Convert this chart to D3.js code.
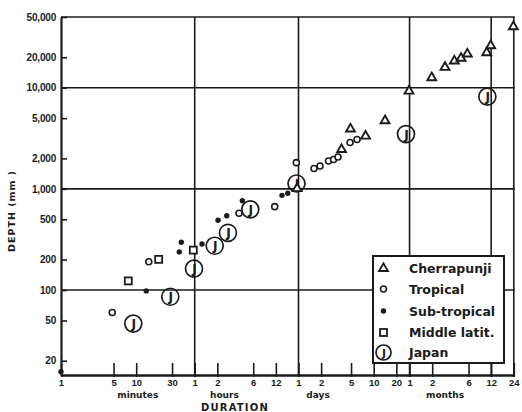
<!DOCTYPE html>
<html>
<head>
<meta charset="utf-8">
<script src="https://cdn.jsdelivr.net/npm/d3@7"></script>
<style>
  body { margin: 0; background: #fff; }
  svg { display: block; font-family: "DejaVu Sans", sans-serif; }
</style>
</head>
<body>
<div id="chart"></div>
<script>
// durations are in minutes, depths in mm
const cherrapunji = [
  [1380, 1007], [5380, 2449], [7080, 3908], [11220, 3326], [20370, 4721],
  [42480, 9270], [85160, 12560], [127900, 15920], [170200, 18370], [208900, 19550],
  [253500, 21550], [458900, 22190], [518500, 26010], [1036000, 40080]
];
const tropical = [
  [4.8, 60], [14.7, 190], [233, 573], [695, 667], [1347, 1815],
  [2315, 1589], [2785, 1683], [3610, 1885], [4210, 1951], [4830, 2065],
  [6980, 2873], [8650, 3078]
];
const subTropical = [
  [1, 15.6], [13.6, 98], [37.4, 238], [39.8, 297], [75, 285], [122.5, 489],
  [160, 543], [258, 764], [869, 863], [1035, 904]
];
const middleLatit = [
  [7.85, 123], [19.9, 201], [57.5, 248]
];
const japan = [
  [9.15, 46.6], [28.4, 85.8], [58.7, 162.6], [110.7, 274], [166, 368],
  [329, 628], [1355, 1130], [38730, 3484], [467700, 8150]
];

const yTickValues = [20, 50, 100, 200, 500, 1000, 2000, 5000, 10000, 20000, 50000];
const yTickLabels = ['20', '50', '100', '200', '500', '1,000', '2,000', '5,000', '10,000', '20,000', '50,000'];
const yGridValues = [100, 1000, 10000, 50000];

const xTickValues = [1, 5, 10, 30, 60, 120, 360, 720, 1440, 2880, 7200, 14400, 28800,
  43200, 86400, 262800, 525600, 1051200];
const xTickLabels = ['1', '5', '10', '30', '1', '2', '6', '12', '1', '2', '5', '10', '20',
  '1', '2', '6', '12', '24'];
const xGridValues = [60, 1440, 43200, 525600, 1051200];
const unitNames = ['minutes', 'hours', 'days', 'months'];
const unitAnchors = [10.5, 149, 2620, 128000];

const legendNames = ['Cherrapunji', 'Tropical', 'Sub-tropical', 'Middle latit.', 'Japan'];

const width = 522, height = 412;
const ink = '#1b1b1b';

const svg = d3.select('#chart').append('svg')
  .attr('width', width).attr('height', height);

const x = d3.scaleLog().domain([1, 1051200]).range([61, 513.8]);
const y = d3.scaleLog().domain([14.45, 50000]).range([375, 17]);

const plotTop = y(50000), plotBottom = y.range()[0];
const plotLeft = x(1), plotRight = x(1051200);

/* ---------- grid ---------- */
svg.append('g').selectAll('line')
  .data(yGridValues)
  .join('line')
  .attr('x1', plotLeft).attr('x2', plotRight + 1)
  .attr('y1', d => y(d)).attr('y2', d => y(d))
  .attr('stroke', ink).attr('stroke-width', 1.6);

svg.append('g').selectAll('line')
  .data(xGridValues)
  .join('line')
  .attr('x1', d => x(d)).attr('x2', d => x(d))
  .attr('y1', plotTop).attr('y2', plotBottom + 2)
  .attr('stroke', ink).attr('stroke-width', 1.6);

/* ---------- axes ---------- */
const yAxis = d3.axisLeft(y)
  .tickValues(yTickValues)
  .tickFormat((d, i) => yTickLabels[i])
  .tickSizeInner(-6).tickSizeOuter(0).tickPadding(10);

const gy = svg.append('g').attr('transform', `translate(${plotLeft},0)`).call(yAxis);
gy.select('.domain').attr('stroke', ink).attr('stroke-width', 2.2);
gy.selectAll('.tick line').attr('stroke', ink).attr('stroke-width', 1.6);
gy.selectAll('.tick text')
  .attr('x', -5)
  .attr('fill', ink).attr('font-size', 10).attr('font-weight', 'bold')
  .attr('letter-spacing', -0.2);

const xAxis = d3.axisBottom(x)
  .tickValues(xTickValues)
  .tickFormat((d, i) => xTickLabels[i])
  .tickSizeInner(-12).tickSizeOuter(0).tickPadding(0);

const gx = svg.append('g').attr('transform', `translate(0,${plotBottom})`).call(xAxis);
gx.select('.domain').attr('stroke', ink).attr('stroke-width', 2.6);
gx.selectAll('.tick line').attr('stroke', ink).attr('stroke-width', 1.6).attr('y2', -12).attr('y1', 2);
gx.selectAll('.tick text')
  .attr('y', 10.5).attr('dy', null)
  .attr('fill', ink).attr('font-size', 9.5).attr('font-weight', 'bold');

svg.append('g').selectAll('text')
  .data(unitNames)
  .join('text')
  .attr('x', (d, i) => x(unitAnchors[i]))
  .attr('y', 397.5)
  .attr('text-anchor', 'middle')
  .attr('fill', ink).attr('font-size', 9).attr('font-weight', 'bold')
  .text(d => d);

svg.append('text')
  .attr('x', 235).attr('y', 411)
  .attr('text-anchor', 'middle')
  .attr('fill', ink).attr('font-size', 10).attr('font-weight', 'bold')
  .attr('letter-spacing', 1.2)
  .text('DURATION');

svg.append('text')
  .attr('transform', 'translate(14.5,211) rotate(-90)')
  .attr('text-anchor', 'middle')
  .attr('fill', ink).attr('font-size', 9.5).attr('font-weight', 'bold')
  .attr('letter-spacing', 1)
  .text('DEPTH  (mm )');

/* ---------- markers ---------- */
const tri = d3.symbol(d3.symbolTriangle, 34);
const marks = svg.append('g');

function drawTriangle(g, cx, cy) {
  g.append('path').attr('d', tri())
    .attr('transform', `translate(${cx},${cy})`)
    .attr('fill', '#fff').attr('stroke', ink).attr('stroke-width', 1.9);
}
function drawCircle(g, cx, cy) {
  g.append('circle').attr('cx', cx).attr('cy', cy).attr('r', 3)
    .attr('fill', '#fff').attr('stroke', ink).attr('stroke-width', 1.6);
}
function drawDot(g, cx, cy) {
  g.append('circle').attr('cx', cx).attr('cy', cy).attr('r', 2.7).attr('fill', ink);
}
function drawSquare(g, cx, cy) {
  g.append('rect').attr('x', cx - 3.5).attr('y', cy - 3.5).attr('width', 7).attr('height', 7)
    .attr('fill', '#fff').attr('stroke', ink).attr('stroke-width', 1.8);
}
function drawJapan(g, cx, cy, r = 8.5) {
  g.append('circle').attr('cx', cx).attr('cy', cy).attr('r', r)
    .attr('fill', 'none').attr('stroke', ink).attr('stroke-width', 1.7);
  g.append('text').attr('x', cx + 0.5).attr('y', cy + 4.5)
    .attr('text-anchor', 'middle')
    .attr('font-size', r * 1.45).attr('font-weight', 'bold').attr('fill', ink)
    .text('J');
}

japan.forEach(([d, v]) => drawJapan(marks, x(d), y(v)));
tropical.forEach(([d, v]) => drawCircle(marks, x(d), y(v)));
middleLatit.forEach(([d, v]) => drawSquare(marks, x(d), y(v)));
subTropical.forEach(([d, v]) => drawDot(marks, x(d), y(v)));
cherrapunji.forEach(([d, v]) => drawTriangle(marks, x(d), y(v)));

/* ---------- legend ---------- */
const legend = svg.append('g');
legend.append('rect')
  .attr('x', 373).attr('y', 256).attr('width', 131).attr('height', 107)
  .attr('fill', '#fff').attr('stroke', ink).attr('stroke-width', 2);

const legendY = [268.5, 289, 311, 332.5, 352.5];
const drawers = [drawTriangle, drawCircle, drawDot, drawSquare, (g, cx, cy) => drawJapan(g, cx, cy, 7.5)];
legendNames.forEach((name, i) => {
  drawers[i](legend, 383.5, legendY[i]);
  legend.append('text')
    .attr('x', 409).attr('y', legendY[i] + 4.5)
    .attr('fill', ink).attr('font-size', 12.5).attr('font-weight', 'bold')
    .text(name);
});
</script>
</body>
</html>
